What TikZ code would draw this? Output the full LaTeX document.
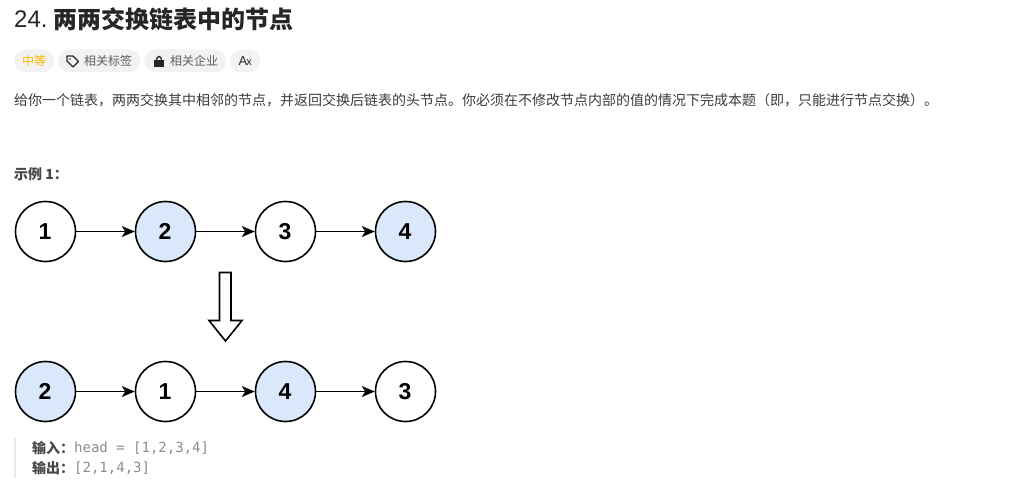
\documentclass[tikz,border=0pt]{standalone}
\usepackage{fontspec}
\setmainfont{Liberation Sans}
\setmonofont{DejaVu Sans Mono}
\newfontfamily\cjk{Noto Sans CJK SC}
\usetikzlibrary{arrows.meta,positioning}
\definecolor{txt}{HTML}{262626}
\definecolor{graytxt}{HTML}{5C5C5C}
\definecolor{pillbg}{HTML}{F2F2F2}
\definecolor{blue}{HTML}{DAE8FC}
\definecolor{amber}{HTML}{FFB800}
\definecolor{codegray}{HTML}{8C8C8C}
\definecolor{quotebar}{HTML}{E8E8E8}
\tikzset{
  listnode/.style={circle,draw=black,line width=1.6pt,minimum size=60pt,inner sep=0pt,font=\fontsize{23}{23}\selectfont\bfseries},
  hl/.style={listnode,fill=blue},
  link/.style={-{Stealth[length=13pt,width=11pt,inset=3.5pt]},line width=1.7pt,black},
  pill/.style={rounded corners=11.5pt,fill=pillbg,draw=none,minimum height=23pt,inner sep=0pt,anchor=west},
  pilltext/.style={font=\fontsize{12}{12}\cjk,text=graytxt,inner sep=0pt},
  body/.style={anchor=west,inner sep=0pt,text=txt},
}
\begin{document}
\begin{tikzpicture}[x=1pt,y=-1pt]
\useasboundingbox (0,0) rectangle (1028,487);
\fill[white] (0,0) rectangle (1028,487);
% title
\node[body,font=\fontsize{24}{26}\selectfont] (num) at (14,19) {24.};
\node[body,font=\fontsize{24}{26}\cjk\bfseries] (title) at (53,19) {两两交换链表中的节点};
% pills
\node[pill,minimum width=40pt] (p1) at (14,61) {};
\node[pilltext,text=amber] (p1t) at (p1.center) {中等};
\node[pill,minimum width=82pt] (p2) at (58,61) {};
\node[pilltext,anchor=west] (p2t) at (84,61) {相关标签};
\node[pill,minimum width=82pt] (p3) at (144,61) {};
\node[pilltext,anchor=west] (p3t) at (170,61) {相关企业};
\node[pill,minimum width=30pt] (p4) at (230,61) {};
\node[pilltext,text=txt,font=\fontsize{13}{13}\selectfont] (p4t) at (p4.center) {A\kern-1pt\raisebox{-0.5pt}{\fontsize{11}{11}\selectfont x}};
% tag icon
\draw[line width=1.1pt,txt,line join=round] (67,56) -- (73,56) -- (78.5,61.5) -- (73,67) -- (67,61) -- cycle;
\fill[txt] (70,59) circle (0.9pt);
% lock icon
\fill[txt] (154,60) rectangle (164,67.5);
\draw[txt,line width=1.3pt] (156.5,60) arc[start angle=180,end angle=0,x radius=2.5pt,y radius=3.5pt];
% body text
\node[body,font=\fontsize{14}{16}\cjk,text=txt!90!white] (desc) at (14,100) {给你一个链表，两两交换其中相邻的节点，并返回交换后链表的头节点。你必须在不修改节点内部的值的情况下完成本题（即，只能进行节点交换）。};
\node[body,font=\fontsize{14}{16}\cjk\bfseries,text=txt!85!white] (ex) at (14,174) {示例 1：};
% row 1
\node[listnode] (a1) at (45.5,231.5) {\kern-1pt 1};
\node[hl] (a2) at (165.5,231.5) {\kern-1pt 2};
\node[listnode] (a3) at (285.5,231.5) {\kern-1pt 3};
\node[hl] (a4) at (405.5,231.5) {\kern-1pt 4};
\draw[link] (a1) -- (a2);
\draw[link] (a2) -- (a3);
\draw[link] (a3) -- (a4);
% big arrow
\draw[line width=1.6pt,black,fill=white,line join=miter] (219.5,272.5) -- (231,272.5) -- (231,320.5) -- (242,320.5) -- (225.5,341) -- (209,320.5) -- (219.5,320.5) -- cycle;
% row 2
\node[hl] (b1) at (45.5,391.5) {\kern-1pt 2};
\node[listnode] (b2) at (165.5,391.5) {\kern-1pt 1};
\node[hl] (b3) at (285.5,391.5) {\kern-1pt 4};
\node[listnode] (b4) at (405.5,391.5) {\kern-1pt 3};
\draw[link] (b1) -- (b2);
\draw[link] (b2) -- (b3);
\draw[link] (b3) -- (b4);
% quote
\fill[quotebar] (14,438) rectangle (16,478);
\node[body,font=\fontsize{14}{16}\cjk\bfseries,text=txt!85!white] (in) at (32,448) {输入：};
\node[body,font=\fontsize{14}{16}\ttfamily,text=codegray] (inv) at (74,448) {head = [1,2,3,4]};
\node[body,font=\fontsize{14}{16}\cjk\bfseries,text=txt!85!white] (out) at (32,468) {输出：};
\node[body,font=\fontsize{14}{16}\ttfamily,text=codegray] (outv) at (74,468) {[2,1,4,3]};
\end{tikzpicture}
\end{document}
